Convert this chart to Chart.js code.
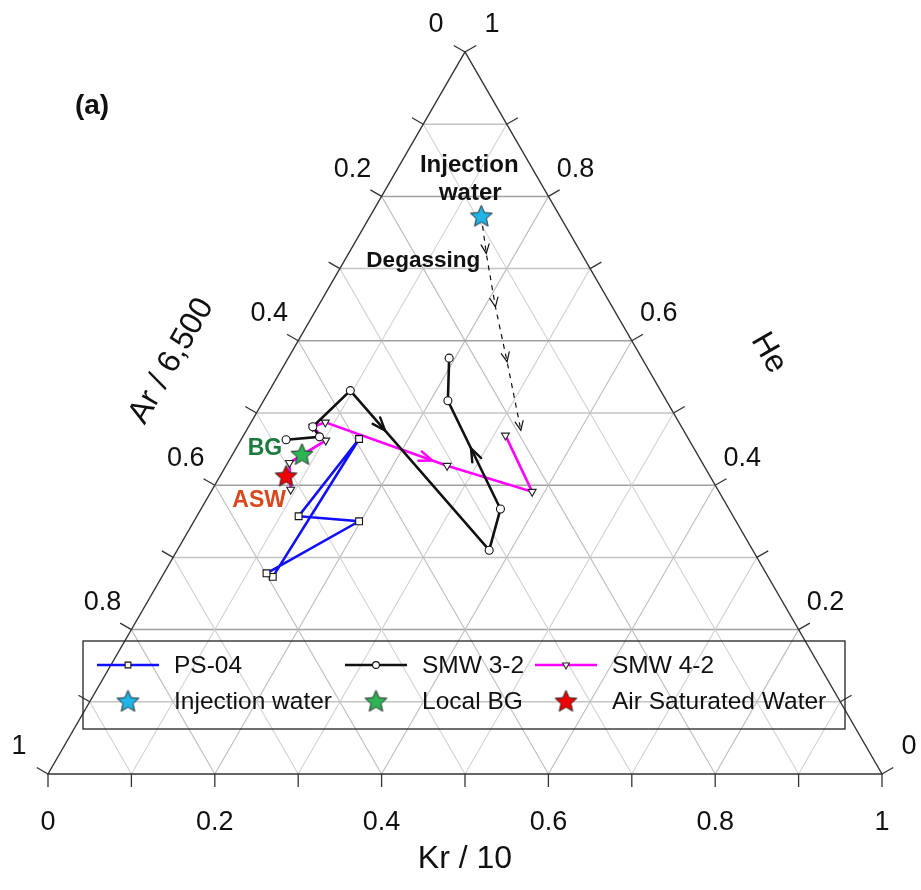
<!DOCTYPE html>
<html>
<head>
<meta charset="utf-8">
<script src="https://cdn.jsdelivr.net/npm/chart.js@4.4.1/dist/chart.umd.min.js"></script>
<style>
  html, body { margin: 0; padding: 0; background: #ffffff; }
  #c { display: block; }
</style>
</head>
<body>
<canvas id="c" width="921" height="890"></canvas>
<script>
// Compositions as fractions of the normalised sum: Kr/10 and He (Ar/6,500 = 1 - Kr - He)
const ps04Kr  = [0.133, 0.141, 0.122, 0.198, 0.123];
const ps04He  = [0.273, 0.464, 0.357, 0.350, 0.278];

const smw32Kr = [0.054, 0.092, 0.077, 0.097, 0.374, 0.359, 0.221, 0.193];
const smw32He = [0.463, 0.467, 0.481, 0.531, 0.310, 0.367, 0.517, 0.576];

const smw42Kr = [0.094, 0.074, 0.102, 0.077, 0.089, 0.265, 0.385, 0.314];
const smw42He = [0.394, 0.431, 0.462, 0.481, 0.487, 0.427, 0.391, 0.469];

const degasKr = [0.133, 0.165, 0.213, 0.265, 0.329];
const degasHe = [0.773, 0.721, 0.647, 0.571, 0.476];

const injectionKr = [0.133];
const injectionHe = [0.773];
const localBgKr = [0.083];
const localBgHe = [0.443];
const aswKr = [0.079];
const aswHe = [0.413];

const axisTicks = [0, 0.2, 0.4, 0.6, 0.8, 1];
const gridSteps = [0.1, 0.2, 0.3, 0.4, 0.5, 0.6, 0.7, 0.8, 0.9];

const SQ3_2 = Math.sqrt(3) / 2;
const FONT = '"Liberation Sans", Arial, Helvetica, sans-serif';

// ternary (Kr, He) -> cartesian position inside the unit triangle
function tern(kr, he) { return { x: kr + he / 2, y: he * SQ3_2 }; }
function series(kr, he) { return kr.map((k, i) => tern(k, he[i])); }
function px(chart, kr, he) {
  const p = tern(kr, he);
  return [chart.scales.x.getPixelForValue(p.x), chart.scales.y.getPixelForValue(p.y)];
}
function fmt(v) { return v === 0 ? '0' : v === 1 ? '1' : v.toFixed(1); }

function starImage(fill, r) {
  const s = Math.ceil(2 * r + 4);
  const c = document.createElement('canvas');
  c.width = c.height = s;
  const g = c.getContext('2d');
  g.translate(s / 2, s / 2 + 0.9);
  g.beginPath();
  for (let i = 0; i < 10; i++) {
    const rr = i % 2 ? r * 0.46 : r;
    const a = -Math.PI / 2 + i * Math.PI / 5;
    g.lineTo(rr * Math.cos(a), rr * Math.sin(a));
  }
  g.closePath();
  g.fillStyle = fill;
  g.fill();
  g.lineWidth = 1;
  g.strokeStyle = '#2a2a2a';
  g.stroke();
  return c;
}

const starInjection = starImage('#1fb5e6', 11.5);
const starLocal = starImage('#2cb552', 11.5);
const starAsw = starImage('#f00000', 11.5);

const datasets = [
  {
    label: 'PS-04', data: series(ps04Kr, ps04He), showLine: true,
    borderColor: '#1010ff', borderWidth: 2.6,
    pointStyle: 'rect', pointRadius: 4.8, pointBackgroundColor: '#ffffff',
    pointBorderColor: '#111111', pointBorderWidth: 1.1, order: 1, inLegend: true
  },
  {
    label: 'SMW 3-2', data: series(smw32Kr, smw32He), showLine: true,
    borderColor: '#111111', borderWidth: 2.6,
    pointStyle: 'circle', pointRadius: 4, pointBackgroundColor: '#ffffff',
    pointBorderColor: '#111111', pointBorderWidth: 1.1, order: 2, inLegend: true,
    arrows: [{ seg: 3, t: 0.25, len: 14, spread: 0.36, width: 2.4 },
             { seg: 5, t: 0.56, len: 14, spread: 0.36, width: 2.4 }]
  },
  {
    label: 'SMW 4-2', data: series(smw42Kr, smw42He), showLine: true,
    borderColor: '#ff00ff', borderWidth: 2.6,
    pointStyle: 'triangle', pointRotation: 180, pointRadius: 4.6, pointBackgroundColor: '#ffffff',
    pointBorderColor: '#222222', pointBorderWidth: 1.1, order: 3, inLegend: true,
    arrows: [{ seg: 4, t: 0.88, len: 14, spread: 0.36, width: 2.4 }]
  },
  {
    label: 'Degassing', data: series(degasKr, degasHe), showLine: true,
    borderColor: '#111111', borderWidth: 1.2, borderDash: [5, 5],
    pointRadius: 0, order: 4, inLegend: false,
    arrows: [{ seg: 0, t: 1, len: 10, spread: 0.42, width: 1.2 },
             { seg: 1, t: 1, len: 10, spread: 0.42, width: 1.2 },
             { seg: 2, t: 1, len: 10, spread: 0.42, width: 1.2 },
             { seg: 3, t: 1, len: 10, spread: 0.42, width: 1.2 }]
  },
  {
    label: 'Injection water', data: series(injectionKr, injectionHe), showLine: false,
    pointStyle: starInjection, pointRadius: 11, order: 0, inLegend: true
  },
  {
    label: 'Local BG', data: series(localBgKr, localBgHe), showLine: false,
    pointStyle: starLocal, pointRadius: 11, order: 0, inLegend: true
  },
  {
    label: 'Air Saturated Water', data: series(aswKr, aswHe), showLine: false,
    pointStyle: starAsw, pointRadius: 11, order: 0, inLegend: true
  }
];

// triangle frame, grid, ticks and axis labels
const ternaryAxes = {
  id: 'ternaryAxes',
  beforeDatasetsDraw(chart) {
    const ctx = chart.ctx;
    ctx.save();
    const line = (a, b, color, w) => {
      ctx.beginPath();
      ctx.moveTo(a[0], a[1]);
      ctx.lineTo(b[0], b[1]);
      ctx.strokeStyle = color;
      ctx.lineWidth = w;
      ctx.stroke();
    };
    gridSteps.forEach((v, i) => {
      const major = (i % 2) === 1;
      // constant He (horizontal)
      line(px(chart, 0, v), px(chart, 1 - v, v), major ? '#a0a0a0' : '#c4c4c4', 1.5);
      // constant Kr
      line(px(chart, v, 0), px(chart, v, 1 - v), major ? '#bdbdbd' : '#d2d2d2', 1.1);
      // constant Ar
      line(px(chart, 0, 1 - v), px(chart, 1 - v, 0), major ? '#bdbdbd' : '#d2d2d2', 1.1);
    });
    const A = px(chart, 0, 0), B = px(chart, 1, 0), C = px(chart, 0, 1);
    ctx.beginPath();
    ctx.moveTo(A[0], A[1]); ctx.lineTo(B[0], B[1]); ctx.lineTo(C[0], C[1]); ctx.closePath();
    ctx.strokeStyle = '#333333';
    ctx.lineWidth = 1.4;
    ctx.stroke();

    // ticks every 0.1 on each edge
    const tl = 13;
    for (let k = 0; k <= 10; k++) {
      const v = k / 10;
      const b = px(chart, v, 0);
      line(b, [b[0], b[1] + tl], '#333333', 1.3);
      const l = px(chart, 0, 1 - v);
      line(l, [l[0] - tl * 0.866, l[1] - tl * 0.5], '#333333', 1.3);
      const r = px(chart, 1 - v, v);
      line(r, [r[0] + tl * 0.866, r[1] - tl * 0.5], '#333333', 1.3);
    }

    ctx.fillStyle = '#111111';
    ctx.font = '27px ' + FONT;
    ctx.textAlign = 'center';
    ctx.textBaseline = 'middle';
    axisTicks.forEach(v => {
      const b = px(chart, v, 0);
      ctx.fillText(fmt(v), b[0], b[1] + 49);
      const l = px(chart, 0, 1 - v);           // Ar = v on the left edge
      ctx.fillText(fmt(v), l[0] - 29, l[1] - 27);
      const r = px(chart, 1 - v, v);           // He = v on the right edge
      ctx.fillText(fmt(v), r[0] + 27, r[1] - 27);
    });

    ctx.font = '32px ' + FONT;
    const mb = px(chart, 0.5, 0);
    ctx.fillText('Kr / 10', mb[0], mb[1] + 85);
    const ml = px(chart, 0, 0.5);
    ctx.save();
    ctx.translate(ml[0] - 85, ml[1] - 52);
    ctx.rotate(-Math.PI / 3);
    ctx.fillText('Ar / 6,500', 0, 0);
    ctx.restore();
    const mr = px(chart, 0.5, 0.5);
    ctx.save();
    ctx.translate(mr[0] + 95, mr[1] - 60);
    ctx.rotate(Math.PI / 3);
    ctx.fillText('He', 0, 0);
    ctx.restore();

    ctx.font = 'bold 28px ' + FONT;
    ctx.fillText('(a)', 92, 106);
    ctx.restore();
  }
};

// open arrowheads along path segments
const pathArrows = {
  id: 'pathArrows',
  afterDatasetsDraw(chart) {
    const ctx = chart.ctx;
    chart.data.datasets.forEach((ds, i) => {
      if (!ds.arrows) return;
      const pts = chart.getDatasetMeta(i).data;
      ds.arrows.forEach(a => {
        const p0 = pts[a.seg], p1 = pts[a.seg + 1];
        const tx = p0.x + (p1.x - p0.x) * a.t;
        const ty = p0.y + (p1.y - p0.y) * a.t;
        const ang = Math.atan2(p1.y - p0.y, p1.x - p0.x);
        ctx.save();
        ctx.strokeStyle = ds.borderColor;
        ctx.lineWidth = a.width;
        ctx.lineCap = 'round';
        ctx.beginPath();
        ctx.moveTo(tx - a.len * Math.cos(ang - a.spread), ty - a.len * Math.sin(ang - a.spread));
        ctx.lineTo(tx, ty);
        ctx.lineTo(tx - a.len * Math.cos(ang + a.spread), ty - a.len * Math.sin(ang + a.spread));
        ctx.stroke();
        ctx.restore();
      });
    });
  }
};

// text annotations placed next to their markers
const annotations = [
  { text: 'Injection', ds: 'Injection water', dx: -12, dy: -51, color: '#111111', size: 24 },
  { text: 'water', ds: 'Injection water', dx: -11, dy: -23, color: '#111111', size: 24 },
  { text: 'Degassing', ds: 'Injection water', dx: -58, dy: 45, color: '#111111', size: 22.5 },
  { text: 'BG', ds: 'Local BG', dx: -37, dy: -5, color: '#1b7a3e', size: 23 },
  { text: 'ASW', ds: 'Air Saturated Water', dx: -27, dy: 25, color: '#d9481c', size: 23 }
];
const textLabels = {
  id: 'textLabels',
  afterDatasetsDraw(chart) {
    const ctx = chart.ctx;
    ctx.save();
    ctx.textAlign = 'center';
    ctx.textBaseline = 'middle';
    annotations.forEach(a => {
      const idx = chart.data.datasets.findIndex(d => d.label === a.ds);
      const el = chart.getDatasetMeta(idx).data[0];
      ctx.font = 'bold ' + a.size + 'px ' + FONT;
      ctx.fillStyle = a.color;
      ctx.fillText(a.text, el.x + a.dx, el.y + a.dy);
    });
    ctx.restore();
  }
};

// boxed legend, three columns by two rows
const boxLegend = {
  id: 'boxLegend',
  afterDraw(chart) {
    const ctx = chart.ctx;
    const box = { x: 83, y: 641, w: 762, h: 88 };
    const cols = [97, 345, 535];
    const rows = [665, 701];
    ctx.save();
    ctx.strokeStyle = '#222222';
    ctx.lineWidth = 1.3;
    ctx.strokeRect(box.x, box.y, box.w, box.h);
    ctx.font = '24.5px ' + FONT;
    ctx.textAlign = 'left';
    ctx.textBaseline = 'middle';
    const items = chart.data.datasets.filter(d => d.inLegend);
    items.forEach((ds, i) => {
      const x = cols[i % 3], y = rows[Math.floor(i / 3)];
      const cx = x + 31;
      if (ds.showLine) {
        ctx.beginPath();
        ctx.moveTo(x, y); ctx.lineTo(x + 62, y);
        ctx.strokeStyle = ds.borderColor;
        ctx.lineWidth = ds.borderWidth;
        ctx.stroke();
        ctx.fillStyle = ds.pointBackgroundColor;
        ctx.strokeStyle = ds.pointBorderColor;
        ctx.lineWidth = ds.pointBorderWidth;
        Chart.helpers.drawPoint(ctx, {
          pointStyle: ds.pointStyle, radius: ds.pointRadius * 0.85,
          rotation: ds.pointRotation || 0, borderWidth: ds.pointBorderWidth
        }, cx, y);
      } else {
        const img = ds.pointStyle;
        ctx.drawImage(img, cx - img.width / 2, y - img.height / 2);
      }
      ctx.fillStyle = '#111111';
      ctx.fillText(ds.label, x + 77, y + 1);
    });
    ctx.restore();
  }
};

new Chart(document.getElementById('c'), {
  type: 'scatter',
  data: { datasets },
  options: {
    responsive: false,
    animation: false,
    events: [],
    devicePixelRatio: 1,
    layout: { padding: { left: 48, right: 39, top: 52, bottom: 116 } },
    scales: {
      x: { type: 'linear', min: 0, max: 1, display: false },
      y: { type: 'linear', min: 0, max: SQ3_2, display: false }
    },
    elements: { line: { tension: 0 } },
    plugins: { legend: { display: false }, tooltip: { enabled: false } }
  },
  plugins: [ternaryAxes, pathArrows, textLabels, boxLegend]
});
</script>
</body>
</html>
